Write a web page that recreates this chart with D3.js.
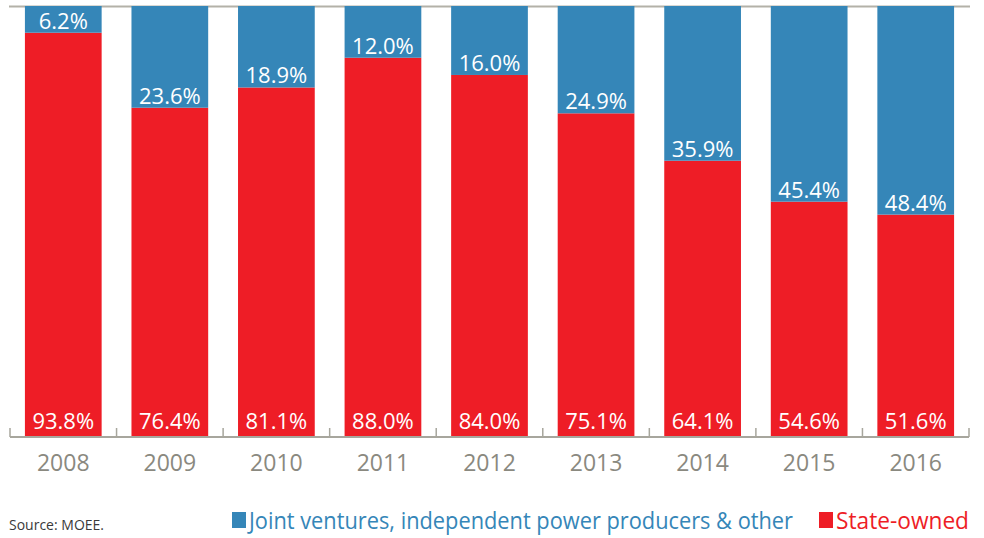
<!DOCTYPE html>
<html>
<head>
<meta charset="utf-8">
<script src="https://cdn.jsdelivr.net/npm/d3@7"></script>
<style>
  body { margin: 0; background: #fff; }
  text { font-family: "Open Sans", "Noto Sans", sans-serif; }
</style>
</head>
<body>
<svg id="chart" width="984" height="538"></svg>
<script>
var years = ["2008", "2009", "2010", "2011", "2012", "2013", "2014", "2015", "2016"];
var jointVentures = [6.2, 23.6, 18.9, 12.0, 16.0, 24.9, 35.9, 45.4, 48.4];
var stateOwned = [93.8, 76.4, 81.1, 88.0, 84.0, 75.1, 64.1, 54.6, 51.6];
var legendLabels = ["Joint ventures, independent power producers & other", "State-owned"];

var blue = "#3586b8", red = "#ee1d26", grey = "#a7a69d";
var svg = d3.select("#chart");

var x = d3.scaleBand().domain(years).range([10, 969])
  .paddingInner(0.28).paddingOuter(0.14);
var y = d3.scaleLinear().domain([0, 100]).range([437, 6]);

// top rule
svg.append("line")
  .attr("x1", 9).attr("x2", 970)
  .attr("y1", 6.5).attr("y2", 6.5)
  .attr("stroke", "#b3b1a8").attr("stroke-width", 2);

var rows = years.map(function(yr, i){
  return {year: yr, jv: jointVentures[i], so: stateOwned[i]};
});

var g = svg.selectAll("g.bar").data(rows).enter().append("g").attr("class", "bar");

// state-owned from bottom
g.append("rect")
  .attr("x", function(d){ return x(d.year); })
  .attr("width", x.bandwidth())
  .attr("y", function(d){ return y(d.so); })
  .attr("height", function(d){ return y(0) - y(d.so); })
  .attr("fill", red);

// joint ventures stacked on top
g.append("rect")
  .attr("x", function(d){ return x(d.year); })
  .attr("width", x.bandwidth())
  .attr("y", function(d){ return y(d.so + d.jv); })
  .attr("height", function(d){ return y(d.so) - y(d.so + d.jv); })
  .attr("fill", blue);

g.append("text")
  .attr("x", function(d){ return x(d.year) + x.bandwidth()/2; })
  .attr("y", function(d){ return y(d.so) - 4; })
  .attr("text-anchor", "middle")
  .attr("fill", "#fff").attr("font-size", 22)
  .text(function(d){ return d.jv.toFixed(1) + "%"; });

g.append("text")
  .attr("x", function(d){ return x(d.year) + x.bandwidth()/2; })
  .attr("y", y(0) - 8)
  .attr("text-anchor", "middle")
  .attr("fill", "#fff").attr("font-size", 22)
  .text(function(d){ return d.so.toFixed(1) + "%"; });

// bottom axis
var axis = svg.append("g").attr("transform", "translate(0,437)");
axis.append("line")
  .attr("x1", 10).attr("x2", 969)
  .attr("stroke", grey).attr("stroke-width", 2);
var tickPos = years.map(function(yr){ return x(yr) - x.step()*x.paddingInner()/2; });
tickPos.push(969);
tickPos[0] = 10;
axis.selectAll("line.tick").data(tickPos).enter().append("line")
  .attr("class", "tick")
  .attr("x1", function(d){ return d; }).attr("x2", function(d){ return d; })
  .attr("y1", -9).attr("y2", 0)
  .attr("stroke", grey).attr("stroke-width", 1.5);
axis.selectAll("text").data(years).enter().append("text")
  .attr("x", function(d){ return x(d) + x.bandwidth()/2; })
  .attr("y", 34)
  .attr("text-anchor", "middle")
  .attr("fill", "#8a897f").attr("font-size", 23)
  .text(function(d){ return d; });

// source
svg.append("text")
  .attr("x", 9).attr("y", 530)
  .attr("fill", "#3a3a3a").attr("font-size", 14)
  .text("Source: MOEE.");

// legend
var legend = svg.append("g");
legend.append("rect").attr("x", 232).attr("y", 512).attr("width", 14).attr("height", 16).attr("fill", blue);
legend.append("text").attr("x", 249).attr("y", 529).attr("fill", blue).attr("font-size", 23)
  .attr("textLength", 544).attr("lengthAdjust", "spacingAndGlyphs")
  .text(legendLabels[0]);
legend.append("rect").attr("x", 819).attr("y", 512).attr("width", 14).attr("height", 16).attr("fill", red);
legend.append("text").attr("x", 836).attr("y", 529).attr("fill", red).attr("font-size", 23)
  .attr("textLength", 133).attr("lengthAdjust", "spacingAndGlyphs")
  .text(legendLabels[1]);
</script>
</body>
</html>
